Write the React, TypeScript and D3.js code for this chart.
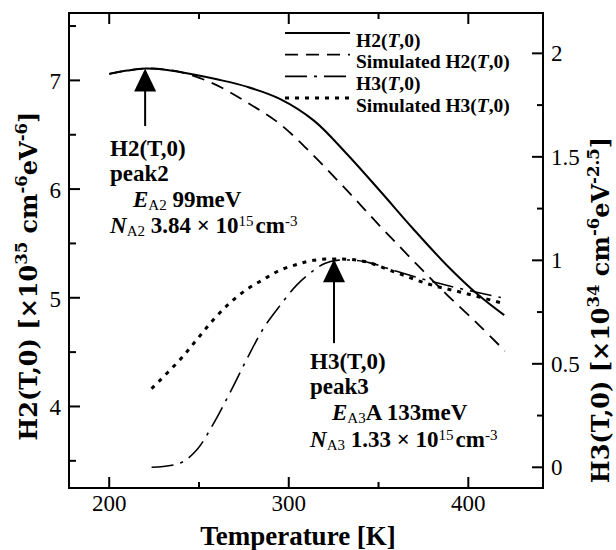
import React from "react";
import * as d3 from "d3";

// measured H2(T,0), left axis
const h2Temp = [200, 210, 220, 230, 247, 260, 277, 295, 314, 332, 351, 369, 388, 406, 420];
const h2Vals = [7.06, 7.09, 7.11, 7.1, 7.055, 7.01, 6.94, 6.83, 6.63, 6.33, 5.98, 5.64, 5.3, 5.02, 4.84];

// simulated H2(T,0), left axis
const simH2Temp = [200, 220, 240, 258, 276.5, 295, 313.7, 332.3, 350.8, 369.4, 388, 406.5, 420.4];
const simH2Vals = [7.06, 7.11, 7.075, 6.97, 6.8, 6.6, 6.31, 5.99, 5.66, 5.34, 5.03, 4.74, 4.51];

// measured H3(T,0), right axis
const h3Temp = [223.6, 239.4, 248.7, 258, 267.2, 276.5, 285.8, 295, 304.4, 313.7, 320, 326.7, 341.5, 360.1, 378.7, 397.2, 418.1];
const h3Vals = [0.0, 0.02, 0.084, 0.21, 0.36, 0.52, 0.67, 0.78, 0.88, 0.95, 0.985, 1.0, 0.995, 0.947, 0.9, 0.86, 0.82];

// simulated H3(T,0), right axis
const simH3Temp = [223.6, 239.4, 248.7, 258, 267.2, 276.5, 285.8, 295, 304.4, 313.7, 326, 341.5, 360.1, 378.7, 397.2, 418.6];
const simH3Vals = [0.38, 0.52, 0.616, 0.713, 0.794, 0.859, 0.907, 0.952, 0.98, 1.0, 1.007, 0.996, 0.94, 0.883, 0.843, 0.794];

const xTicks = [200, 300, 400];
const xMinor = [250, 350];
const leftTicks = [4, 5, 6, 7];
const leftMinor = [3.5, 4.5, 5.5, 6.5, 7.5];
const rightTicks = [0, 0.5, 1, 1.5, 2];
const rightMinor = [0.25, 0.75, 1.25, 1.75];

// peak arrows: [temperature, tip value, tail value]
const peak2 = [220, 7.11, 6.58];
const peak3 = [325.2, 1.005, 0.6];

const W = 616;
const H = 550;
const L = 69, R = 543, T = 13, B = 488;
const FONT = "'Liberation Serif', 'Times New Roman', serif";
const TITLE_FONT = "'DejaVu Serif', 'Liberation Serif', serif";

const App = () => {
  const x = d3.scaleLinear().domain([177.6, 441.6]).range([L, R]);
  const yL = d3.scaleLinear().domain([3.25, 7.62]).range([B, T]);
  const yR = d3.scaleLinear().domain([-0.1, 2.195]).range([B, T]);

  const mk = (temps: number[], vals: number[], ys: d3.ScaleLinear<number, number>) =>
    d3
      .line<number>()
      .x((d, i) => x(temps[i]))
      .y((d) => ys(d))
      .curve(d3.curveCatmullRom.alpha(0.5))(vals) || "";

  const series = [
    { name: "H2", d: mk(h2Temp, h2Vals, yL), dash: "", w: 2 },
    { name: "simH2", d: mk(simH2Temp, simH2Vals, yL), dash: "13 8", w: 1.8 },
    { name: "H3", d: mk(h3Temp, h3Vals, yR), dash: "22 7 3 7", w: 1.6 },
    { name: "simH3", d: mk(simH3Temp, simH3Vals, yR), dash: "4 6", w: 3 },
  ];

  const legend = [
    { pre: "H2(", dash: "", w: 2 },
    { pre: "Simulated H2(", dash: "13 8", w: 1.8 },
    { pre: "H3(", dash: "22 7 3 7", w: 1.6 },
    { pre: "Simulated H3(", dash: "4 6", w: 3 },
  ];

  const arrow = (p: number[], ys: d3.ScaleLinear<number, number>) => {
    const ax = x(p[0]);
    const tip = ys(p[1]);
    const tail = ys(p[2]);
    return (
      <g>
        <line x1={ax} x2={ax} y1={tip + 20} y2={tail} stroke="#000" strokeWidth={2} />
        <path d={`M${ax},${tip} L${ax - 11},${tip + 23} L${ax + 11},${tip + 23} Z`} fill="#000" />
      </g>
    );
  };

  const sub = { fontSize: 15, fontWeight: "normal" as const };

  return (
    <svg width={W} height={H} style={{ position: "absolute", left: 0, top: 0 }} fontFamily={FONT}>
      <rect x={0} y={0} width={W} height={H} fill="#fff" />
      {/* curves */}
      {series.map((s) => (
        <path key={s.name} d={s.d} fill="none" stroke="#000" strokeWidth={s.w} strokeDasharray={s.dash} />
      ))}

      {/* frame */}
      <rect x={L} y={T} width={R - L} height={B - T} fill="none" stroke="#000" strokeWidth={2} />

      {/* x ticks bottom + top */}
      {xTicks.map((t) => (
        <g key={"x" + t}>
          <line x1={x(t)} x2={x(t)} y1={B} y2={B - 11} stroke="#000" strokeWidth={2} />
          <line x1={x(t)} x2={x(t)} y1={T} y2={T + 11} stroke="#000" strokeWidth={2} />
          <text x={x(t)} y={B + 23} textAnchor="middle" fontSize={23}>
            {t}
          </text>
        </g>
      ))}
      {xMinor.map((t) => (
        <g key={"xm" + t}>
          <line x1={x(t)} x2={x(t)} y1={B} y2={B - 6} stroke="#000" strokeWidth={2} />
          <line x1={x(t)} x2={x(t)} y1={T} y2={T + 6} stroke="#000" strokeWidth={2} />
        </g>
      ))}

      {/* left ticks */}
      {leftTicks.map((t) => (
        <g key={"l" + t}>
          <line x1={L} x2={L + 11} y1={yL(t)} y2={yL(t)} stroke="#000" strokeWidth={2} />
          <text x={L - 8} y={yL(t) + 9} textAnchor="end" fontSize={23}>
            {t}
          </text>
        </g>
      ))}
      {leftMinor.map((t) => (
        <line key={"lm" + t} x1={L} x2={L + 7} y1={yL(t)} y2={yL(t)} stroke="#000" strokeWidth={2} />
      ))}

      {/* right ticks */}
      {rightTicks.map((t) => (
        <g key={"r" + t}>
          <line x1={R} x2={R - 11} y1={yR(t)} y2={yR(t)} stroke="#000" strokeWidth={2} />
          <text x={R + 8} y={yR(t) + 8} textAnchor="start" fontSize={23}>
            {t}
          </text>
        </g>
      ))}
      {rightMinor.map((t) => (
        <line key={"rm" + t} x1={R} x2={R - 6} y1={yR(t)} y2={yR(t)} stroke="#000" strokeWidth={2} />
      ))}

      {/* axis titles */}
      <text x={(L + R) / 2 - 8} y={545} textAnchor="middle" fontSize={27} fontWeight="bold">
        Temperature [K]
      </text>
      <text
        transform={`translate(37,276) rotate(-90)`}
        textAnchor="middle"
        fontSize={24}
        fontWeight="bold"
        fontFamily={TITLE_FONT}
      >
        H2(T,0) [×10
        <tspan dy={-10} fontSize={16.5}>35</tspan>
        <tspan dy={10}> cm</tspan>
        <tspan dy={-10} fontSize={16.5}>-6</tspan>
        <tspan dy={10}>eV</tspan>
        <tspan dy={-10} fontSize={16.5}>-6</tspan>
        <tspan dy={10}>]</tspan>
      </text>
      <text
        transform={`translate(609,310) rotate(-90)`}
        textAnchor="middle"
        fontSize={24}
        fontWeight="bold"
        fontFamily={TITLE_FONT}
      >
        H3(T,0) [×10
        <tspan dy={-10} fontSize={16.5}>34</tspan>
        <tspan dy={10}> cm</tspan>
        <tspan dy={-10} fontSize={16.5}>-6</tspan>
        <tspan dy={10}>eV</tspan>
        <tspan dy={-10} fontSize={16.5}>-2.5</tspan>
        <tspan dy={10}>]</tspan>
      </text>

      {/* legend */}
      {legend.map((g, i) => {
        const ly = 33 + i * 21.7;
        return (
          <g key={"lg" + i}>
            <line x1={285} x2={350} y1={ly} y2={ly} stroke="#000" strokeWidth={g.w} strokeDasharray={g.dash} />
            <text x={356} y={ly + 13.5} fontSize={19.5} fontWeight="bold">
              {g.pre}
              <tspan fontStyle="italic">T</tspan>,0)
            </text>
          </g>
        );
      })}

      {/* peak arrows */}
      {arrow(peak2, yL)}
      {arrow(peak3, yR)}

      {/* annotations */}
      <g fontSize={23} fontWeight="bold">
        <text x={110} y={156}>H2(T,0)</text>
        <text x={110} y={180.5}>peak2</text>
        <text x={133} y={206.5}>
          <tspan fontStyle="italic">E</tspan>
          <tspan dy={3} style={sub}>A2</tspan>
          <tspan dy={-3}> 99meV</tspan>
        </text>
        <text x={110} y={233}>
          <tspan fontStyle="italic">N</tspan>
          <tspan dy={3} style={sub}>A2</tspan>
          <tspan dy={-3}> 3.84 × 10</tspan>
          <tspan dy={-7} style={sub}>15</tspan>
          <tspan dy={7} dx={2}>cm</tspan>
          <tspan dy={-7} style={sub}>-3</tspan>
        </text>

        <text x={310} y={369}>H3(T,0)</text>
        <text x={310} y={394}>peak3</text>
        <text x={332} y={420}>
          <tspan fontStyle="italic">E</tspan>
          <tspan dy={3} style={sub}>A3</tspan>
          <tspan dy={-3}>A 133meV</tspan>
        </text>
        <text x={310} y={447}>
          <tspan fontStyle="italic">N</tspan>
          <tspan dy={3} style={sub}>A3</tspan>
          <tspan dy={-3}> 1.33 × 10</tspan>
          <tspan dy={-7} style={sub}>15</tspan>
          <tspan dy={7} dx={2}>cm</tspan>
          <tspan dy={-7} style={sub}>-3</tspan>
        </text>
      </g>
    </svg>
  );
};

export default App;
